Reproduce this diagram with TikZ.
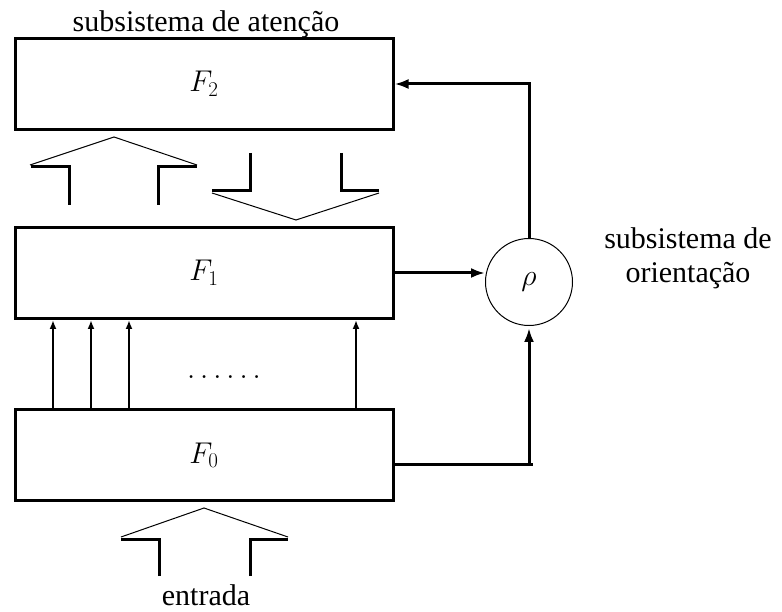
\RequirePackage{fix-cm}
\documentclass[tikz,border=0pt]{standalone}
\usepackage[no-math]{fontspec}
\setmainfont{Liberation Serif}
\usetikzlibrary{arrows.meta}
\begin{document}
\begin{tikzpicture}[x=1pt,y=-1pt,
  layerbox/.style={draw, line width=3pt, minimum width=378pt, minimum height=91pt, inner sep=0pt, font=\fontsize{30}{36}\selectfont},
  rhonode/.style={draw, circle, line width=1pt, minimum size=87pt, inner sep=0pt, font=\fontsize{30}{36}\selectfont},
  lbl/.style={font=\fontsize{30}{34}\selectfont, inner sep=0pt, align=center},
  conn/.style={line width=3pt},
  bigarrow/.style={conn, -{Latex[length=14pt,width=10pt]}},
  smallarrow/.style={line width=2.4pt, -{Latex[length=9pt,width=7pt]}},
  wide/.style={line width=3pt},
  thin/.style={line width=1pt}]
\useasboundingbox (0,0) rectangle (782,612);

\node[layerbox] (F2) at (204,84) {$F_2$};
\node[layerbox] (F1) at (204,273) {$F_1$};
\node[layerbox] (F0) at (204,455) {$F_0$};
\node[rhonode] (rho) at (529,282) {$\rho$};

\node[lbl, anchor=base] (att) at (206,32) {subsistema de atenção};
\node[lbl, anchor=base] (ori) at (688,283) {subsistema de\\orientação};
\node[lbl, anchor=base] (inp) at (206,605) {entrada};
\node[font=\fontsize{30}{36}\selectfont, anchor=base, inner sep=0pt] (dots) at (224,378) {$\ldots\ldots$};

% feedback connectors
\draw[bigarrow] (rho.north) |- (F2.east);
\draw[bigarrow] (F1.east) -- (F1.east -| rho.west);
\coordinate (c0) at (533,464);
\draw[conn] ([yshift=-9pt]F0.east) -- (c0);
\draw[bigarrow, shorten >=2pt] (c0 -| rho.south) -- (rho.south);

% F0 -> F1 parallel arrows
\foreach \xx in {53,91,129,356}{
  \draw[smallarrow] (F0.north -| \xx,0) -- (F1.south -| \xx,0);
}

% wide arrow up F1 -> F2
\draw[wide] (69,205) -- (69,167) -- (31,167);
\draw[wide] (158,205) -- (158,167) -- (197,167);
\draw[thin] (30,165) -- (114,137) -- (197,165);

% wide arrow down F2 -> F1
\draw[wide] (250,153) -- (250,191) -- (212,191);
\draw[wide] (341,153) -- (341,191) -- (379,191);
\draw[thin] (212,193) -- (296,220) -- (379,193);

% input arrow
\draw[wide] (159,576) -- (159,539) -- (121,539);
\draw[wide] (250,576) -- (250,539) -- (288,539);
\draw[thin] (121,537) -- (204,508) -- (288,537);
\end{tikzpicture}
\end{document}
